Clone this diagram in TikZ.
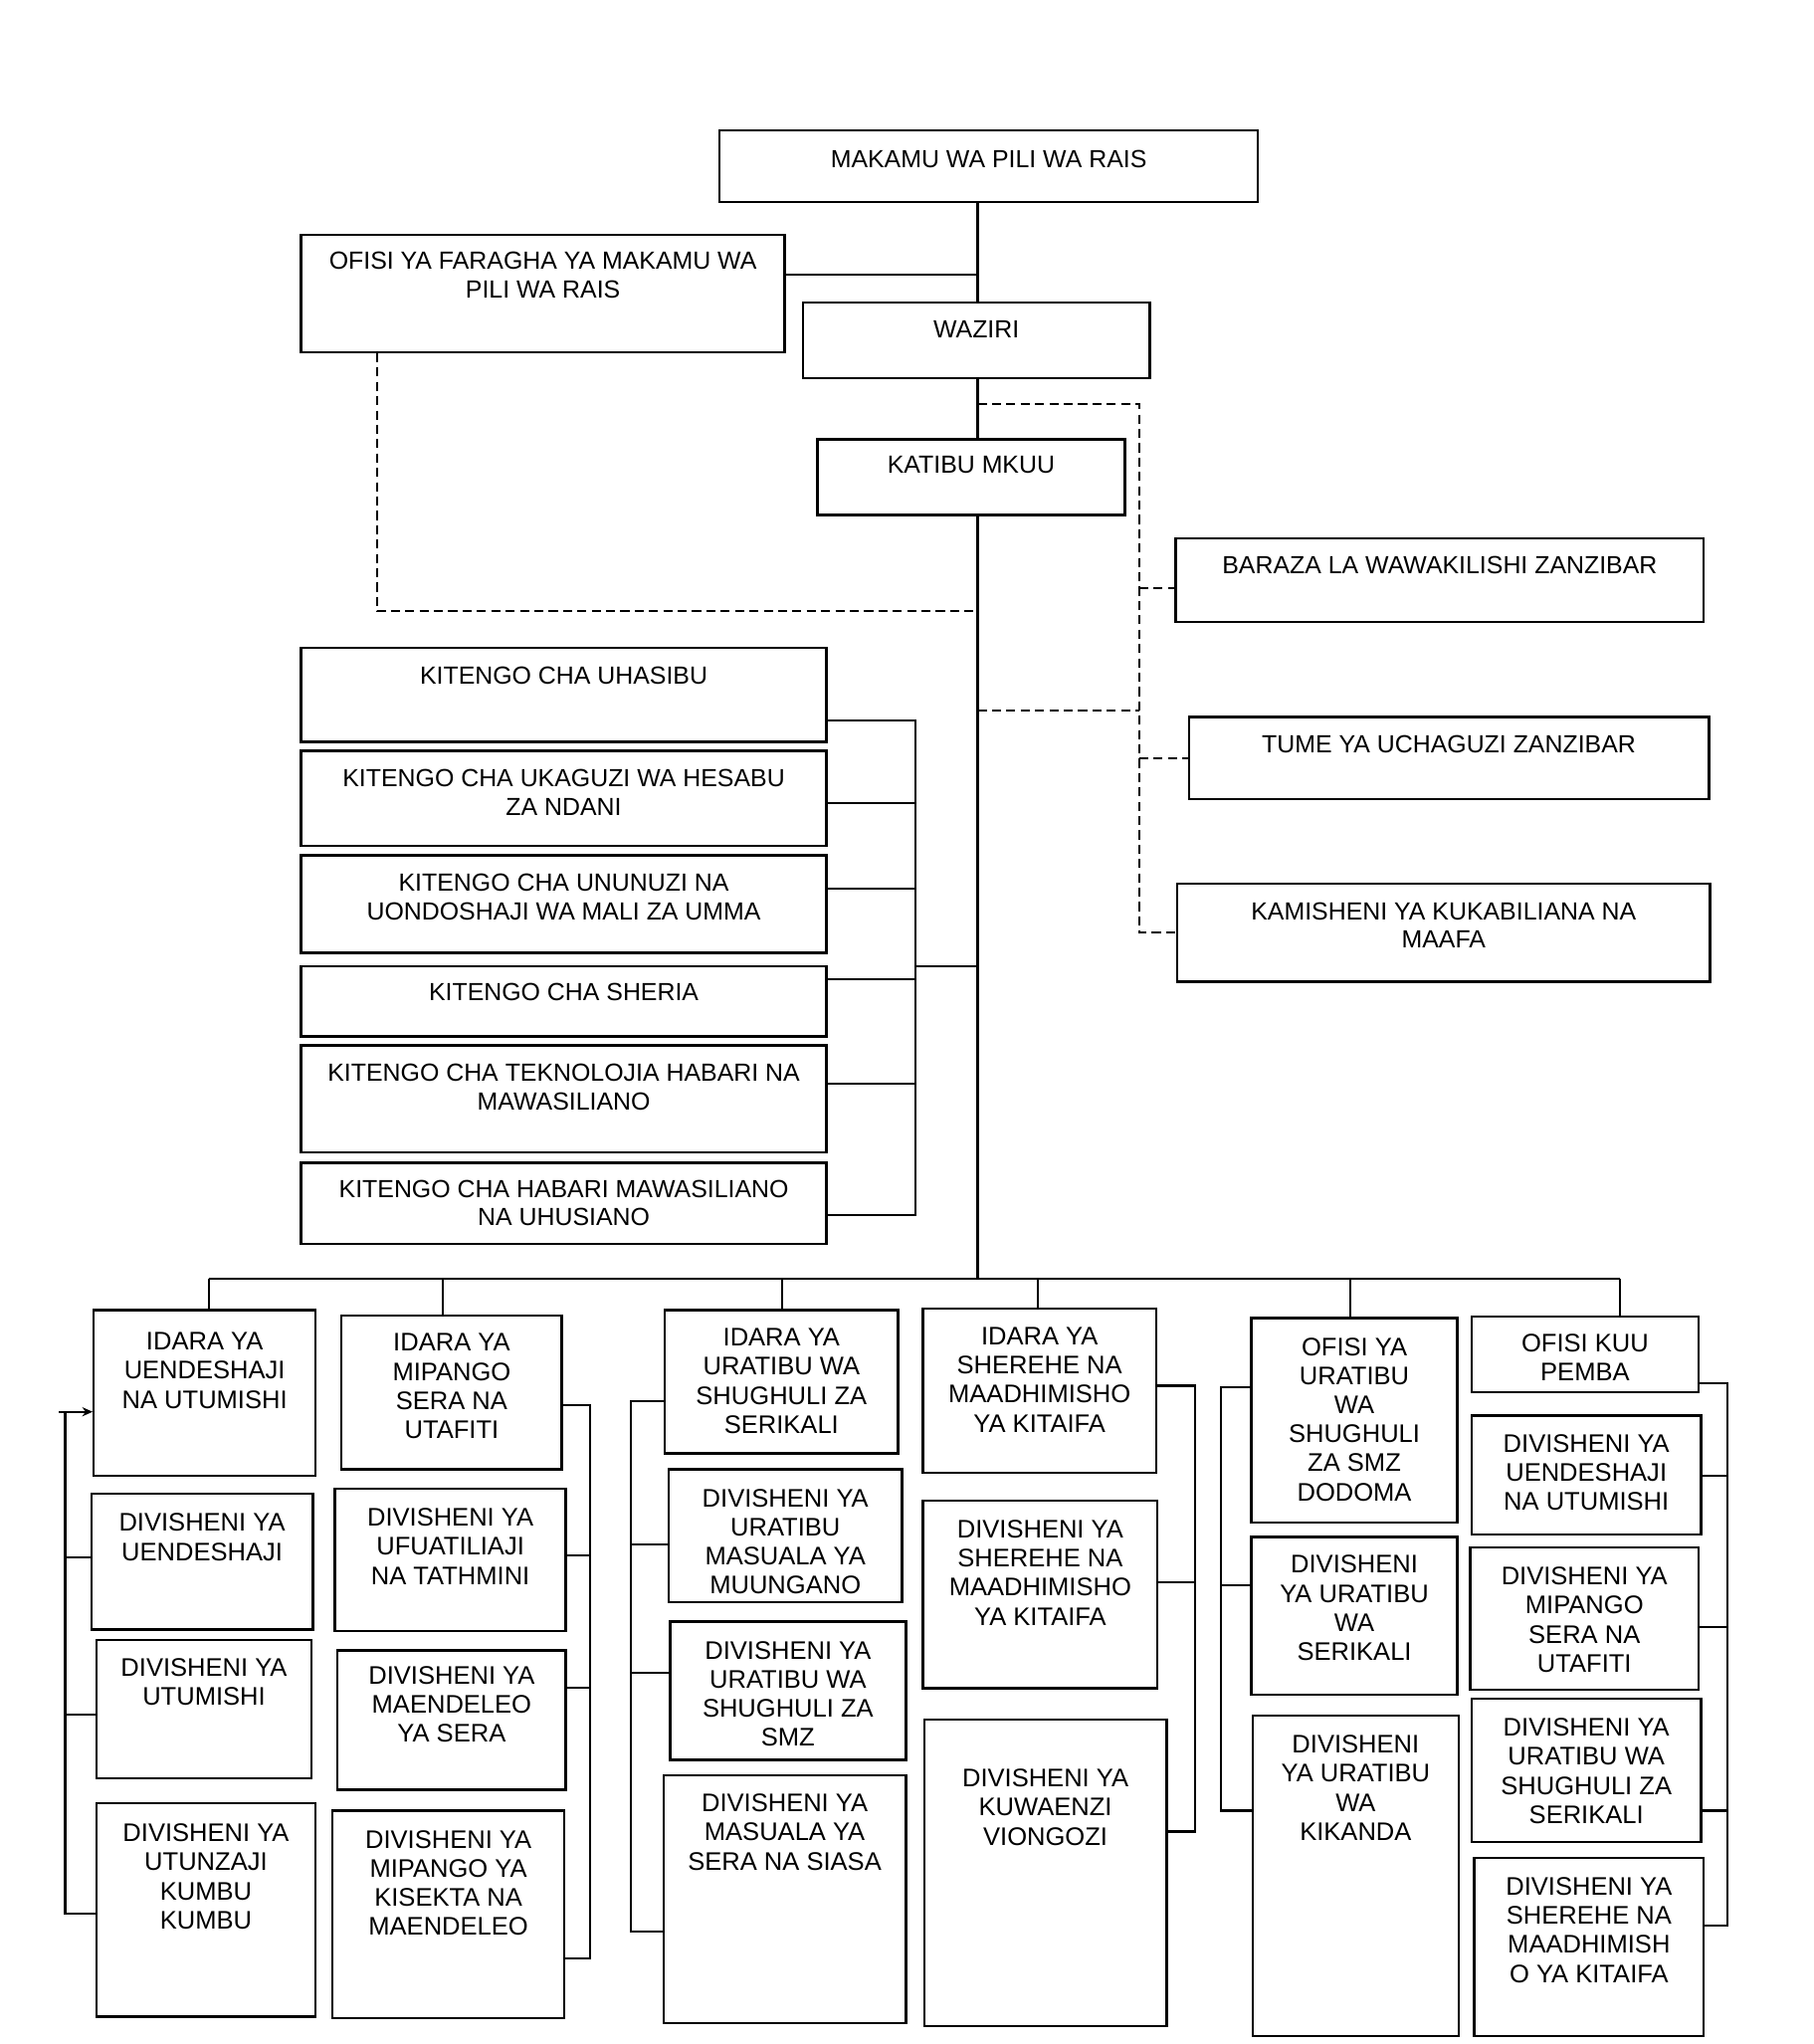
\documentclass[tikz,border=0pt]{standalone}
\usepackage{fontspec}
\setmainfont{Liberation Sans}
\usetikzlibrary{arrows.meta}
\tikzset{
  box/.style={draw, line width=1.8pt, inner sep=0pt, rectangle},
  ttop/.style={font=\fontsize{19}{22}\selectfont, align=center, inner sep=0pt, anchor=north},
  tbot/.style={font=\fontsize{19.5}{22.3}\selectfont, align=center, inner sep=0pt, anchor=north},
  conn/.style={line width=1.6pt},
  dconn/.style={line width=1.6pt, dash pattern=on 7pt off 4pt},
}
% name, x1, y1, x2, y2, text style, first-line centre y, text
\newcommand\orgbox[8]{%
  \node[box, minimum width={#4-#2}, minimum height={#5-#3}] (#1) at ({(#2+#4)/2},{(#3+#5)/2}) {};
  \node[#6] (#1t) at ({(#2+#4)/2},{#7-7}) {#8};
}
\begin{document}
\begin{tikzpicture}[x=1pt,y=-1pt]
\fill[white] (0,0) rectangle (1391,1568);
\useasboundingbox (0,0) rectangle (1391,1568);

% ---------- top part ----------
\orgbox{makamu}{552}{100}{965}{155}{ttop}{122}{MAKAMU WA PILI WA RAIS}
\orgbox{ofisi}{231}{180}{602}{270}{ttop}{200}{OFISI YA FARAGHA YA MAKAMU WA\\PILI WA RAIS}
\orgbox{waziri}{616}{232}{882}{290}{ttop}{253}{WAZIRI}
\orgbox{katibu}{627}{337}{863}{395}{ttop}{357}{KATIBU MKUU}
\orgbox{baraza}{902}{413}{1307}{477}{ttop}{434}{BARAZA LA WAWAKILISHI ZANZIBAR}
\orgbox{tume}{912}{550}{1311}{613}{ttop}{571}{TUME YA UCHAGUZI ZANZIBAR}
\orgbox{kamisheni}{903}{678}{1312}{753}{ttop}{699}{KAMISHENI YA KUKABILIANA NA\\MAAFA}

\orgbox{k1}{231}{497}{634}{569}{ttop}{518}{KITENGO CHA UHASIBU}
\orgbox{k2}{231}{576}{634}{649}{ttop}{597}{KITENGO CHA UKAGUZI WA HESABU\\ZA NDANI}
\orgbox{k3}{231}{656}{634}{731}{ttop}{677}{KITENGO CHA UNUNUZI NA\\UONDOSHAJI WA MALI ZA UMMA}
\orgbox{k4}{231}{741}{634}{795}{ttop}{761}{KITENGO CHA SHERIA}
\orgbox{k5}{231}{802}{634}{884}{ttop}{823}{KITENGO CHA TEKNOLOJIA HABARI NA\\MAWASILIANO}
\orgbox{k6}{231}{892}{634}{954}{ttop}{912}{KITENGO CHA HABARI MAWASILIANO\\NA UHUSIANO}

\coordinate (sp) at (750,0);
\coordinate (dr) at (874,0);
\coordinate (kb) at (702,0);
\coordinate (bus) at (750,981);

\draw[conn] (makamu.south -| sp) -- (waziri.north -| sp);
\draw[conn] (waziri.south -| sp) -- (katibu.north -| sp);
\draw[conn] (katibu.south -| sp) -- (bus);
\draw[conn] (ofisi.east |- 0,211) -- (sp |- 0,211);
\draw[dconn] (ofisi.south -| 289,0) -- (289,469) -- (sp |- 0,469);
\draw[dconn] (sp |- 0,310) -- (dr |- 0,310) -- (dr |- kamisheni.west) -- (kamisheni.west);
\draw[dconn] (dr |- 0,451) -- (baraza.west |- 0,451);
\draw[dconn] (dr |- tume.west) -- (tume.west);
\draw[dconn] (sp |- 0,545) -- (dr |- 0,545);

\draw[conn] (k1.east |- 0,553) -- (kb |- 0,553) -- (kb |- 0,932) -- (k6.east |- 0,932);
\draw[conn] (k2.east |- 0,616) -- (kb |- 0,616);
\draw[conn] (k3.east |- 0,682) -- (kb |- 0,682);
\draw[conn] (k4.east |- 0,751) -- (kb |- 0,751);
\draw[conn] (k5.east |- 0,831) -- (kb |- 0,831);
\draw[conn] (kb |- 0,741) -- (sp |- 0,741);

% ---------- bottom part ----------
\orgbox{a1}{72}{1005}{242}{1132}{tbot}{1029}{IDARA YA\\UENDESHAJI\\NA UTUMISHI}
\orgbox{a2}{70}{1146}{240}{1250}{tbot}{1168}{DIVISHENI YA\\UENDESHAJI}
\orgbox{a3}{74}{1258}{239}{1364}{tbot}{1279}{DIVISHENI YA\\UTUMISHI}
\orgbox{a4}{74}{1383}{242}{1547}{tbot}{1406}{DIVISHENI YA\\UTUNZAJI\\KUMBU\\KUMBU}

\orgbox{b1}{262}{1009}{431}{1127}{tbot}{1030}{IDARA YA\\MIPANGO\\SERA NA\\UTAFITI}
\orgbox{b2}{257}{1142}{434}{1251}{tbot}{1164}{DIVISHENI YA\\UFUATILIAJI\\NA TATHMINI}
\orgbox{b3}{259}{1266}{434}{1373}{tbot}{1285}{DIVISHENI YA\\MAENDELEO\\YA SERA}
\orgbox{b4}{255}{1389}{433}{1548}{tbot}{1411}{DIVISHENI YA\\MIPANGO YA\\KISEKTA NA\\MAENDELEO}

\orgbox{c1}{510}{1005}{689}{1115}{tbot}{1026}{IDARA YA\\URATIBU WA\\SHUGHULI ZA\\SERIKALI}
\orgbox{c2}{513}{1127}{692}{1229}{tbot}{1149}{DIVISHENI YA\\URATIBU\\MASUALA YA\\MUUNGANO}
\orgbox{c3}{514}{1244}{695}{1350}{tbot}{1266}{DIVISHENI YA\\URATIBU WA\\SHUGHULI ZA\\SMZ}
\orgbox{c4}{509}{1362}{695}{1552}{tbot}{1383}{DIVISHENI YA\\MASUALA YA\\SERA NA SIASA}

\orgbox{d1}{708}{1004}{887}{1130}{tbot}{1025}{IDARA YA\\SHEREHE NA\\MAADHIMISHO\\YA KITAIFA}
\orgbox{d2}{708}{1151}{888}{1295}{tbot}{1173}{DIVISHENI YA\\SHEREHE NA\\MAADHIMISHO\\YA KITAIFA}
\orgbox{d3}{709}{1319}{895}{1554}{tbot}{1364}{DIVISHENI YA\\KUWAENZI\\VIONGOZI}

\orgbox{e1}{960}{1011}{1118}{1168}{tbot}{1033}{OFISI YA\\URATIBU\\WA\\SHUGHULI\\ZA SMZ\\DODOMA}
\orgbox{e2}{960}{1179}{1118}{1300}{tbot}{1200}{DIVISHENI\\YA URATIBU\\WA\\SERIKALI}
\orgbox{e3}{961}{1316}{1119}{1562}{tbot}{1338}{DIVISHENI\\YA URATIBU\\WA\\KIKANDA}

\orgbox{f1}{1129}{1010}{1303}{1068}{tbot}{1030}{OFISI KUU\\PEMBA}
\orgbox{f2}{1129}{1086}{1305}{1177}{tbot}{1107}{DIVISHENI YA\\UENDESHAJI\\NA UTUMISHI}
\orgbox{f3}{1128}{1187}{1303}{1296}{tbot}{1209}{DIVISHENI YA\\MIPANGO\\SERA NA\\UTAFITI}
\orgbox{f4}{1129}{1303}{1305}{1413}{tbot}{1325}{DIVISHENI YA\\URATIBU WA\\SHUGHULI ZA\\SERIKALI}
\orgbox{f5}{1131}{1425}{1307}{1562}{tbot}{1447}{DIVISHENI YA\\SHEREHE NA\\MAADHIMISH\\O YA KITAIFA}

% bus and drops
\draw[conn] (160,981) -- (1243,981);
\draw[conn] (a1.north -| 160,0) -- (160,981);
\draw[conn] (b1.north -| 340,0) -- (340,981);
\draw[conn] (c1.north -| 600,0) -- (600,981);
\draw[conn] (d1.north -| 796,0) -- (796,981);
\draw[conn] (e1.north -| 1036,0) -- (1036,981);
\draw[conn] (f1.north -| 1243,0) -- (1243,981);

% column brackets
\draw[conn] (50,1083) -- (50,1468) -- (a4.west |- 0,1468);
\draw[conn, -{Stealth[length=8pt,width=7pt]}] (45,1083) -- (a1.west |- 0,1083);
\draw[conn] (50,1195) -- (a2.west |- 0,1195);
\draw[conn] (50,1315) -- (a3.west |- 0,1315);

\draw[conn] (b1.east |- 0,1078) -- (453,1078) -- (453,1502) -- (b4.east |- 0,1502);
\draw[conn] (b2.east |- 0,1193) -- (453,1193);
\draw[conn] (b3.east |- 0,1295) -- (453,1295);

\draw[conn] (c1.west |- 0,1075) -- (484,1075) -- (484,1482) -- (c4.west |- 0,1482);
\draw[conn] (c2.west |- 0,1185) -- (484,1185);
\draw[conn] (c3.west |- 0,1283) -- (484,1283);

\draw[conn] (d1.east |- 0,1063) -- (917,1063) -- (917,1405) -- (d3.east |- 0,1405);
\draw[conn] (d2.east |- 0,1214) -- (917,1214);

\draw[conn] (e1.west |- 0,1064) -- (937,1064) -- (937,1389) -- (e3.west |- 0,1389);
\draw[conn] (e2.west |- 0,1216) -- (937,1216);

\draw[conn] (f1.east |- 0,1061) -- (1325,1061) -- (1325,1477) -- (f5.east |- 0,1477);
\draw[conn] (f2.east |- 0,1132) -- (1325,1132);
\draw[conn] (f3.east |- 0,1248) -- (1325,1248);
\draw[conn] (f4.east |- 0,1389) -- (1325,1389);
\end{tikzpicture}
\end{document}
